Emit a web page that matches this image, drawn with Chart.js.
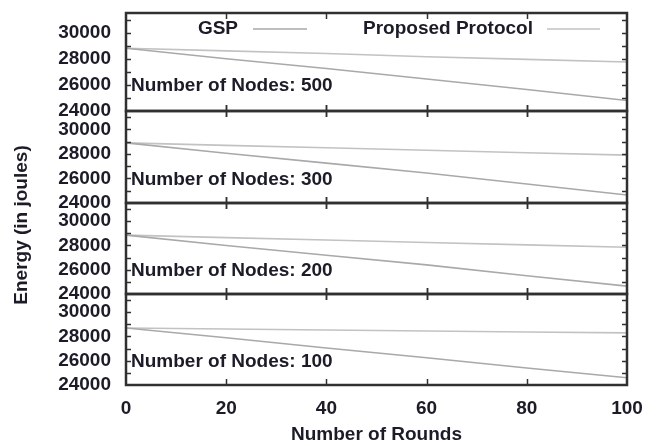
<!DOCTYPE html>
<html>
<head>
<meta charset="utf-8">
<script src="https://cdn.jsdelivr.net/npm/chart.js@4.4.1/dist/chart.umd.min.js"></script>
<style>
  html, body { margin: 0; padding: 0; background: #fff; }
  #wrap { width: 662px; height: 446px; }
</style>
</head>
<body>
<div id="wrap"><canvas id="chart" width="662" height="446"></canvas></div>
<script>
// rounds on the x axis
const rounds = [0, 20, 40, 60, 80, 100];
const xTicks = [0, 20, 40, 60, 80, 100];
const yTicks = [24000, 26000, 28000, 30000];

// energy left (joules)
const gsp500  = [28800, 28000, 27250, 26450, 25650, 24800];
const prop500 = [28800, 28600, 28400, 28150, 27950, 27750];
const gsp300  = [28900, 28050, 27250, 26450, 25550, 24650];
const prop300 = [28900, 28700, 28500, 28300, 28100, 27900];
const gsp200  = [28850, 28000, 27200, 26400, 25500, 24650];
const prop200 = [28850, 28650, 28450, 28250, 28050, 27850];
const gsp100  = [28700, 27900, 27050, 26250, 25400, 24600];
const prop100 = [28700, 28620, 28530, 28450, 28370, 28300];

const ink = "#1c1c28";
const frameColor = "#303030";
const gspColor = "#a9a9a9";
const propColor = "#c2c2c2";
const font = { family: "'Liberation Sans', Arial, sans-serif", size: 19, weight: "bold" };

// panels, bottom first (chart.js puts the last stacked axis on top)
const panels = [
    { id: "y100", nodes: 100, gsp: gsp100, prop: prop100, weight: 91 },
    { id: "y200", nodes: 200, gsp: gsp200, prop: prop200, weight: 91 },
    { id: "y300", nodes: 300, gsp: gsp300, prop: prop300, weight: 92 },
    { id: "y500", nodes: 500, gsp: gsp500, prop: prop500, weight: 98 }
];

const toPoints = (vals) => rounds.map((r, i) => ({ x: r, y: vals[i] }));

let datasets = [];
let scales = {
    x: {
        type: "linear",
        min: 0,
        max: 100,
        afterBuildTicks: (axis) => { axis.ticks = xTicks.map(v => ({ value: v })); },
        grid: { display: false, drawTicks: false },
        border: { display: false },
        ticks: { color: ink, font: font, padding: 12, maxRotation: 0, autoSkip: false, callback: (v) => String(v) },
        title: { display: true, text: "Number of Rounds", color: ink, font: font, padding: { top: 0, bottom: 0 } },
        afterFit: (scale) => { scale.height = 61; scale.paddingLeft = 0; scale.paddingRight = 0; }
    }
};

panels.forEach((p) => {
    datasets.push({
        label: "GSP", data: toPoints(p.gsp), yAxisID: p.id,
        borderColor: gspColor, borderWidth: 1.6, pointRadius: 0, fill: false, tension: 0
    });
    datasets.push({
        label: "Proposed Protocol", data: toPoints(p.prop), yAxisID: p.id,
        borderColor: propColor, borderWidth: 1.6, pointRadius: 0, fill: false, tension: 0
    });
    scales[p.id] = {
        type: "linear",
        position: "left",
        stack: "panels",
        stackWeight: p.weight,
        min: 24000,
        max: 31500,
        afterBuildTicks: (axis) => { axis.ticks = yTicks.map(v => ({ value: v })); },
        grid: { display: false, drawTicks: false },
        border: { display: false },
        ticks: { color: ink, font: font, padding: 15, autoSkip: false, callback: (v) => String(v) },
        afterFit: (scale) => { scale.width = 126; scale.paddingTop = 0; scale.paddingBottom = 0; }
    };
});

// gnuplot-like frame, inward ticks, panel labels, key and y title
const framePlugin = {
    id: "frame",
    afterDatasetsDraw(chart) {
        const ctx = chart.ctx;
        const x = chart.scales.x;
        const area = chart.chartArea;
        ctx.save();
        ctx.strokeStyle = frameColor;
        ctx.lineWidth = 1.5;

        panels.forEach((p) => {
            const y = chart.scales[p.id];
            // minor ticks left and right every 1000
            for (let v = 25000; v <= 31000; v += 1000) {
                const py = Math.round(y.getPixelForValue(v)) + 0.5;
                ctx.beginPath();
                ctx.moveTo(area.left, py); ctx.lineTo(area.left + 5, py);
                ctx.moveTo(area.right, py); ctx.lineTo(area.right - 5, py);
                ctx.stroke();
            }
            // x ticks on top and bottom edges of each panel
            [y.top, y.bottom].forEach((by) => {
                xTicks.slice(1, -1).forEach((v) => {
                    const px = Math.round(x.getPixelForValue(v)) + 0.5;
                    ctx.beginPath();
                    ctx.moveTo(px, Math.max(area.top, by - 6));
                    ctx.lineTo(px, Math.min(area.bottom, by + 6));
                    ctx.stroke();
                });
            });
        });

        ctx.lineWidth = 2.5;
        panels.forEach((p) => {
            const y = chart.scales[p.id];
            ctx.strokeRect(area.left, y.top, area.right - area.left, y.bottom - y.top);
        });

        // panel labels
        ctx.fillStyle = ink;
        ctx.font = "bold 19px 'Liberation Sans', Arial, sans-serif";
        ctx.textBaseline = "middle";
        ctx.textAlign = "left";
        panels.forEach((p) => {
            const y = chart.scales[p.id];
            ctx.fillText("Number of Nodes: " + p.nodes, area.left + 5, y.getPixelForValue(25900));
        });

        // key, text first then sample line
        const top = chart.scales.y500.top;
        const keyY = top + 16;
        const keys = [
            { text: datasets[0].label, color: gspColor, textEnd: area.left + 112, l0: area.left + 127, l1: area.left + 181 },
            { text: datasets[1].label, color: propColor, textEnd: area.left + 407, l0: area.left + 421, l1: area.left + 474 }
        ];
        keys.forEach((k) => {
            ctx.fillStyle = ink;
            ctx.textAlign = "right";
            ctx.fillText(k.text, k.textEnd, keyY);
            ctx.strokeStyle = k.color;
            ctx.lineWidth = 1.6;
            ctx.beginPath();
            ctx.moveTo(k.l0, keyY); ctx.lineTo(k.l1, keyY);
            ctx.stroke();
        });

        // y axis title
        ctx.translate(22, 225);
        ctx.rotate(-Math.PI / 2);
        ctx.textAlign = "center";
        ctx.fillStyle = ink;
        ctx.fillText("Energy (in joules)", 0, 0);
        ctx.restore();
    }
};

new Chart(document.getElementById("chart"), {
    type: "line",
    data: { datasets: datasets },
    options: {
        responsive: false,
        animation: false,
        layout: { padding: { top: 13, right: 35, left: 0, bottom: 0 } },
        plugins: { legend: { display: false }, tooltip: { enabled: false } },
        scales: scales
    },
    plugins: [framePlugin]
});
</script>
</body>
</html>
